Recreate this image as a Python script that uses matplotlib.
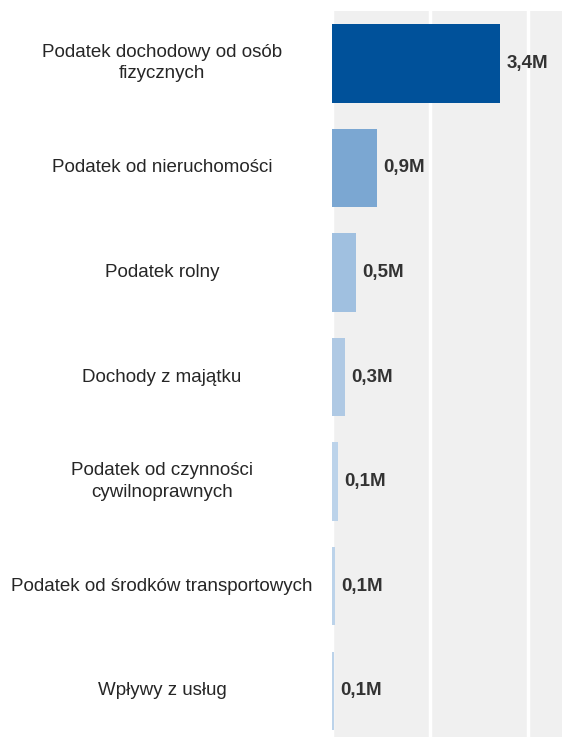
import matplotlib.pyplot as plt
import matplotlib.transforms as mtransforms
from matplotlib.ticker import MultipleLocator

plt.rcParams['font.family'] = ['Liberation Sans', 'DejaVu Sans']

# Revenue categories and amounts (millions)
categories = [
    "Podatek dochodowy od osób\nfizycznych",
    "Podatek od nieruchomości",
    "Podatek rolny",
    "Dochody z majątku",
    "Podatek od czynności\ncywilnoprawnych",
    "Podatek od środków transportowych",
    "Wpływy z usług",
]
values = [3.43, 0.92, 0.49, 0.26, 0.12, 0.06, 0.05]
colors = ["#00519A", "#7BA7D2", "#A0C0E0", "#AFC9E4", "#BCD3EA", "#BCD3EA", "#BCD3EA"]

fig = plt.figure(figsize=(5.62, 7.37), dpi=100)
W, H = 562, 737
left, top, bottom_px = 332, 11, 743
ax = fig.add_axes([left / W, (H - bottom_px) / H, (W - left) / W, (bottom_px - top) / H])

ax.set_facecolor("#F0F0F0")
pos = list(range(len(categories)))
ax.barh(pos, values, height=0.75, color=colors, edgecolor="none", zorder=3)

ax.set_ylim(len(categories) - 0.5, -0.5)
ax.set_xlim(0, 4.69)
ax.xaxis.set_major_locator(MultipleLocator(2))
ax.grid(axis="x", color="white", linewidth=2.5, zorder=1)
ax.grid(axis="y", visible=False)
ax.tick_params(left=False, bottom=False, labelbottom=False, labelleft=False)
for s in ax.spines.values():
    s.set_visible(False)

# value labels to the right of each bar
for p, v in zip(pos, values):
    label = f"{v:.1f}".replace(".", ",") + "M"
    ax.annotate(label, (v, p), xytext=(4.5, 0), textcoords="offset points",
                va="center", ha="left", fontsize=13.5, fontweight="bold",
                color="#333333", zorder=4)

# category names centred in the left margin
trans = mtransforms.blended_transform_factory(fig.transFigure, ax.transData)
for p, name in zip(pos, categories):
    ax.text(162 / W, p, name, transform=trans, ha="center", va="center",
            fontsize=13.5, color="#262626", linespacing=1.32, clip_on=False)

fig.savefig("out.png", dpi=100)
